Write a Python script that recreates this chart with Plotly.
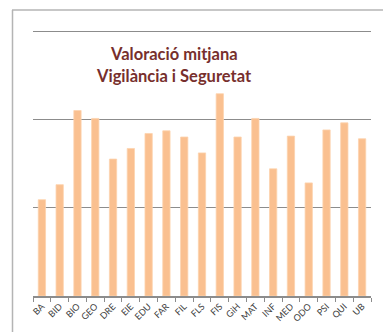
import plotly.graph_objects as go

# Mean rating per faculty / centre
categories = ["BA", "BID", "BIO", "GEO", "DRE", "EIE", "EDU", "FAR", "FIL", "FLS",
              "FIS", "GiH", "MAT", "INF", "MED", "ODO", "PSI", "QUI", "UB"]
values = [1.09, 1.26, 2.10, 2.01, 1.55, 1.67, 1.84, 1.87, 1.80, 1.62,
          2.29, 1.80, 2.01, 1.44, 1.81, 1.28, 1.88, 1.96, 1.78]

title_lines = ["Valoració mitjana", "Vigilància i Seguretat"]

W, H = 383, 332
L, R, T, B = 33, 12, 29, 36
PW, PH = W - L - R, H - T - B
# small headroom above the top gridline so it is still drawn
Y_TOP = 3 + 2 * 3 / (PH - 2)


def px_x(x):
    return (x - L) / PW


def px_y(y):
    return 1 - (y - T) / PH


bar_color = "#FAC090"
grid_color = "#8C8C8C"
frame_color = "#B4B4B4"
title_color = "#772F2D"
label_color = "#404040"

fig = go.Figure(
    go.Bar(
        x=categories,
        y=values,
        marker=dict(color=bar_color, line=dict(color="#FCD3AE", width=0.8)),
        width=0.41,
    )
)

fig.update_layout(
    width=W,
    height=H,
    margin=dict(l=L, r=R, t=T, b=B),
    paper_bgcolor="white",
    plot_bgcolor="white",
    showlegend=False,
    xaxis=dict(
        type="category",
        range=[-0.5, len(categories) - 0.5],
        showgrid=False,
        showline=True,
        linecolor=grid_color,
        linewidth=1.5,
        ticks="outside",
        tickson="boundaries",
        ticklen=4,
        tickcolor=grid_color,
        tickwidth=1,
        tickangle=-45,
        tickfont=dict(family="Lato", size=9, color=label_color),
        automargin=False,
    ),
    yaxis=dict(
        range=[0, Y_TOP],
        dtick=1,
        showgrid=True,
        gridcolor=grid_color,
        gridwidth=1.2,
        showticklabels=False,
        zeroline=False,
        automargin=False,
    ),
)

# Chart frame: left and top edges
fig.add_shape(type="line", xref="paper", yref="paper",
              x0=px_x(12.5), x1=px_x(12.5), y0=px_y(10), y1=px_y(333),
              line=dict(color=frame_color, width=1.5))
fig.add_shape(type="line", xref="paper", yref="paper",
              x0=px_x(12), x1=px_x(384), y0=px_y(10), y1=px_y(10),
              line=dict(color=frame_color, width=1.5))

# Two-line title
for text, base in zip(title_lines, [59, 81]):
    fig.add_annotation(
        text=f"<b>{text}</b>",
        xref="paper", yref="paper",
        x=px_x(174), y=px_y(base + 7),
        xanchor="center", yanchor="bottom",
        showarrow=False,
        font=dict(family="Lato", size=16.5, color=title_color),
    )

fig.write_html("out.html")
